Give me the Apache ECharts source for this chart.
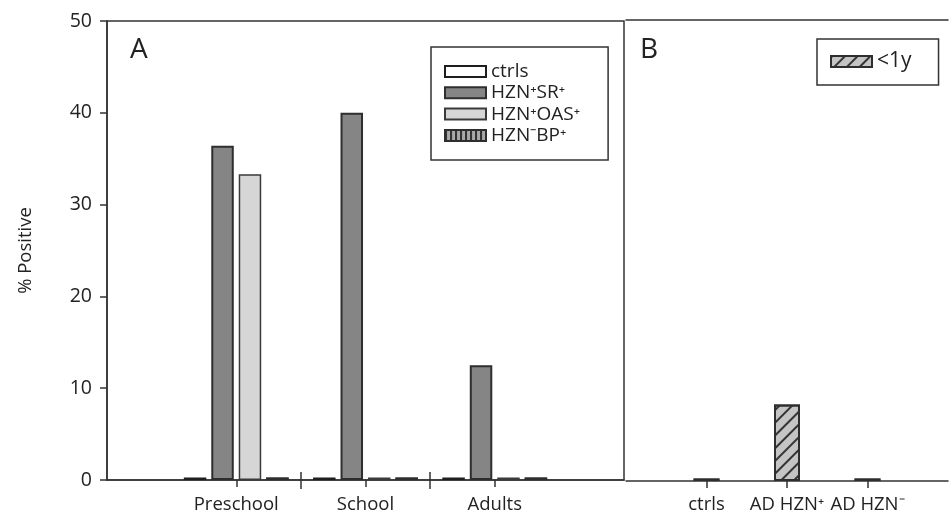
<!DOCTYPE html>
<html><head><meta charset="utf-8">
<script src="https://cdn.jsdelivr.net/npm/echarts@6/dist/echarts.min.js"></script>
<style>html,body{margin:0;padding:0;background:#fff}#c{width:951px;height:517px}</style>
</head><body><div id="c"></div>
<script>
// Panel A data
const groupsA = ['', 'Preschool', 'School', 'Adults', ''];
const ctrls   = [null, 0, 0, 0, null];
const hznSR   = [null, 36.4, 40.0, 12.5, null];
const hznOAS  = [null, 33.3, 0, 0, null];
const hznBP   = [null, 0, 0, 0, null];
const dividersA = [1.5, 2.5];
// Panel B data
const groupsB = ['', 'ctrls', 'AD HZN\u207A', 'AD HZN\u207B', ''];
const lessThan1y = [null, 0, 8.3, 0, null];
// y axis
const yMin = 0, yMax = 50, yStep = 10;
const namesA = ['ctrls', 'HZN\u207ASR\u207A', 'HZN\u207AOAS\u207A', 'HZN\u207BBP\u207A'];
const nameB = '<1y';

const FONT = "'Open Sans', sans-serif";
const FS = 18.5;
const AX = '#333';
const showMid = (i) => i >= 1 && i <= 3;

const chart = echarts.init(document.getElementById('c'), null, {renderer: 'canvas'});
chart.setOption({
  animation: false,
  backgroundColor: '#fff',
  textStyle: {fontFamily: FONT, color: '#222'},
  grid: [
    {left: 107, top: 21, width: 517, height: 459, show: true, borderColor: AX, borderWidth: 1.5, backgroundColor: 'transparent'},
    {left: 626, top: 20, width: 334, height: 461}
  ],
  xAxis: [
    {gridIndex: 0, type: 'category', data: groupsA, boundaryGap: false,
     axisLine: {lineStyle: {color: AX, width: 1.5}},
     axisTick: {interval: showMid, length: 7, lineStyle: {color: AX, width: 1.5}},
     axisLabel: {interval: 0, margin: 15, fontSize: FS, color: '#222', fontFamily: FONT},
     splitLine: {show: false}},
    {gridIndex: 0, type: 'value', min: 0, max: 4, position: 'bottom', offset: -8,
     axisLine: {show: false}, axisLabel: {show: false}, splitLine: {show: false},
     axisTick: {show: true, customValues: dividersA, length: 17, lineStyle: {color: AX, width: 1.5}}},
    {gridIndex: 1, type: 'category', data: groupsB, boundaryGap: false,
     axisLine: {lineStyle: {color: AX, width: 1.5}},
     axisTick: {interval: showMid, length: 7, lineStyle: {color: AX, width: 1.5}},
     axisLabel: {interval: 0, margin: 14, fontSize: FS, color: '#222', fontFamily: FONT},
     splitLine: {show: false}},
    {gridIndex: 1, type: 'value', min: 0, max: 1, position: 'top',
     axisLine: {show: true, lineStyle: {color: AX, width: 1.5}}, axisTick: {show: false},
     axisLabel: {show: false}, splitLine: {show: false}}
  ],
  yAxis: [
    {gridIndex: 0, type: 'value', min: yMin, max: yMax, interval: yStep,
     name: '% Positive', nameLocation: 'middle', nameGap: 72,
     nameTextStyle: {fontSize: 18.5, color: '#222', fontFamily: FONT},
     axisLine: {show: true, lineStyle: {color: AX, width: 1.5}},
     axisTick: {show: true, length: 7, lineStyle: {color: AX, width: 1.5}},
     axisLabel: {margin: 15, fontSize: 19.5, color: '#222', fontFamily: FONT},
     splitLine: {show: false}},
    {gridIndex: 1, type: 'value', min: yMin, max: yMax, show: false, splitLine: {show: false}}
  ],
  legend: [
    {data: namesA, orient: 'vertical', left: 431, top: 47, icon: 'rect',
     itemWidth: 41, itemHeight: 11, itemGap: 2.3, padding: [15, 28, 15, 13],
     borderColor: AX, borderWidth: 1.5, selectedMode: false,
     textStyle: {fontSize: 19, color: '#222', fontFamily: FONT}},
    {data: [nameB], orient: 'vertical', left: 817, top: 39, icon: 'rect',
     itemWidth: 41, itemHeight: 11, padding: [12, 27, 13, 13],
     borderColor: AX, borderWidth: 1.5, selectedMode: false,
     textStyle: {fontSize: 21, color: '#222', fontFamily: FONT}}
  ],
  graphic: [
    {type: 'text', left: 130, top: 36, style: {text: 'A', fontSize: 28, fill: '#222', fontFamily: FONT}},
    {type: 'text', left: 640, top: 36, style: {text: 'B', fontSize: 28, fill: '#222', fontFamily: FONT}}
  ],
  series: [
    {name: namesA[0], type: 'bar', xAxisIndex: 0, yAxisIndex: 0, data: ctrls, barWidth: 22.5, barGap: '22%', barMinHeight: 2.5,
     itemStyle: {color: '#ffffff', borderColor: '#1e1e1e', borderWidth: 2}},
    {name: namesA[1], type: 'bar', xAxisIndex: 0, yAxisIndex: 0, data: hznSR, barWidth: 22.5, barGap: '22%', barMinHeight: 2.5,
     itemStyle: {color: '#858585', borderColor: '#2e2e2e', borderWidth: 2}},
    {name: namesA[2], type: 'bar', xAxisIndex: 0, yAxisIndex: 0, data: hznOAS, barWidth: 22.5, barGap: '22%', barMinHeight: 2.5,
     itemStyle: {color: '#d6d6d6', borderColor: '#3a3a3a', borderWidth: 1.5}},
    {name: namesA[3], type: 'bar', xAxisIndex: 0, yAxisIndex: 0, data: hznBP, barWidth: 22.5, barGap: '22%', barMinHeight: 2.5,
     itemStyle: {color: '#a8a8a8', borderColor: '#2e2e2e', borderWidth: 2,
       decal: {symbol: 'rect', symbolSize: 1, dashArrayX: [1.5, 2.5], dashArrayY: [10, 0], color: '#333'}}},
    {name: nameB, type: 'bar', xAxisIndex: 2, yAxisIndex: 1, data: lessThan1y, barWidth: 26, barMinHeight: 2.5,
     itemStyle: {color: '#c4c4c4', borderColor: '#2e2e2e', borderWidth: 2,
       decal: {symbol: 'rect', symbolSize: 1, dashArrayX: [1, 0], dashArrayY: [2, 7], rotation: -Math.PI / 4, color: '#333'}}}
  ]
});
</script></body></html>
